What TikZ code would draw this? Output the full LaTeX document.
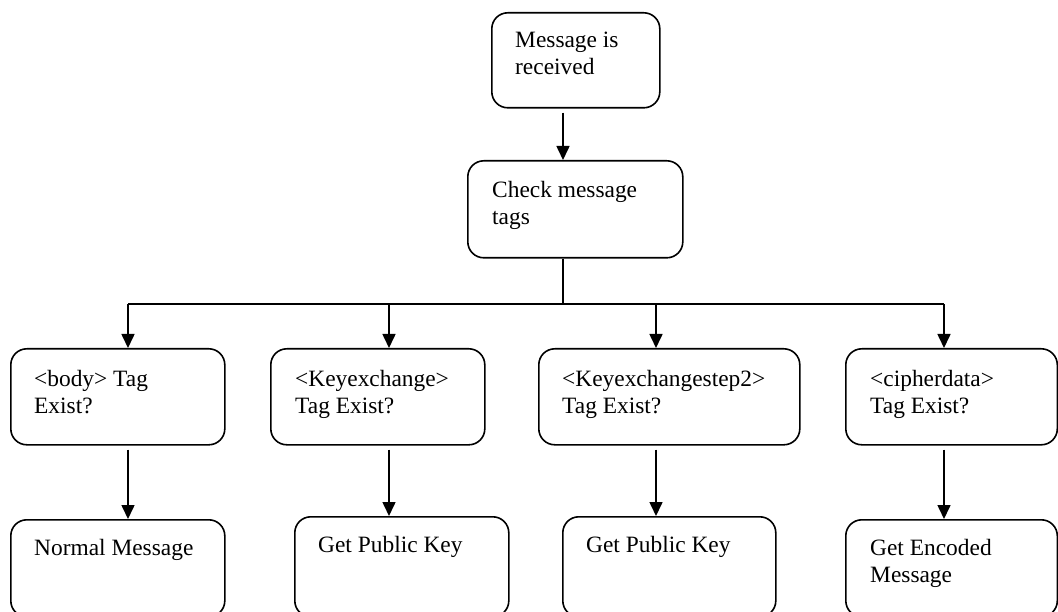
\documentclass[tikz,border=0pt]{standalone}
\usepackage{fontspec}
\setmainfont{Liberation Serif}
\usetikzlibrary{arrows.meta,calc}
\begin{document}
\begin{tikzpicture}[x=1pt,y=-1pt,
  box/.style={draw=black, line width=1.6pt, rounded corners=16pt,
    anchor=north west, inner sep=0pt},
  txt/.style={anchor=north west, inner sep=0pt, align=left,
    font=\fontsize{23.4}{27}\selectfont},
  link/.style={draw=black, line width=1.6pt},
  arr/.style={link, -{Triangle[width=13pt,length=14pt]}},
  gap/.style={shorten <=4pt}]
\useasboundingbox (0,0) rectangle (1058,612);
\clip (0,0) rectangle (1058,612);

% column positions of the connectors
\coordinate (sx) at (563,0);
\coordinate (bus) at (563,304);
\coordinate (xa) at (128,0);
\coordinate (xb) at (389,0);
\coordinate (xc) at (656,0);
\coordinate (xd) at (944,0);

% boxes
\node[box, minimum width=168pt, minimum height=95pt] (T)  at (491,12)  {};
\node[box, minimum width=215pt, minimum height=97pt] (C0) at (467,160) {};

\node[box, minimum width=214pt,   minimum height=96pt] (A) at (10,348)  {};
\node[box, minimum width=214pt,   minimum height=96pt] (B) at (270,348) {};
\node[box, minimum width=261pt,   minimum height=96pt] (C) at (538,348) {};
\node[box, minimum width=211.5pt, minimum height=96pt] (D) at (845,348) {};

\node[box, minimum width=214pt,   minimum height=97pt]  (A2) at (10,519)  {};
\node[box, minimum width=214pt,   minimum height=100pt] (B2) at (294,516) {};
\node[box, minimum width=213pt,   minimum height=100pt] (C2) at (562,516) {};
\node[box, minimum width=211.5pt, minimum height=97pt]  (D2) at (845,519) {};

% box texts
\node[txt] (Tt)  at ($(T.north west)+(24,16)$)  {\strut Message is\\received};
\node[txt] (C0t) at ($(C0.north west)+(25,18)$) {\strut Check message\\tags};
\node[txt] (At)  at ($(A.north west)+(24,19)$)  {\strut <body> Tag\\Exist?};
\node[txt] (Bt)  at ($(B.north west)+(25,19)$)  {\strut <Keyexchange>\\Tag Exist?};
\node[txt] (Ct)  at ($(C.north west)+(24,19)$)  {\strut <Keyexchangestep2>\\Tag Exist?};
\node[txt] (Dt)  at ($(D.north west)+(25,19)$)  {\strut <cipherdata>\\Tag Exist?};
\node[txt] (A2t) at ($(A2.north west)+(24,17)$) {\strut Normal Message};
\node[txt] (B2t) at ($(B2.north west)+(24,17)$) {\strut Get Public Key};
\node[txt] (C2t) at ($(C2.north west)+(24,17)$) {\strut Get Public Key};
\node[txt] (D2t) at ($(D2.north west)+(25,17)$) {\strut Get Encoded\\Message};

% connectors
\draw[arr, gap] (T.south -| sx) -- (C0.north -| sx);
\draw[link] (C0.south -| sx) -- (bus);
\draw[link] (xa |- bus) -- (xd |- bus);
\draw[arr] (xa |- bus) -- (xa |- A.north);
\draw[arr] (xb |- bus) -- (xb |- B.north);
\draw[arr] (xc |- bus) -- (xc |- C.north);
\draw[arr] (xd |- bus) -- (xd |- D.north);

\draw[arr, gap] (xa |- A.south) -- (xa |- A2.north);
\draw[arr, gap] (xb |- B.south) -- (xb |- B2.north);
\draw[arr, gap] (xc |- C.south) -- (xc |- C2.north);
\draw[arr, gap] (xd |- D.south) -- (xd |- D2.north);
\end{tikzpicture}
\end{document}
